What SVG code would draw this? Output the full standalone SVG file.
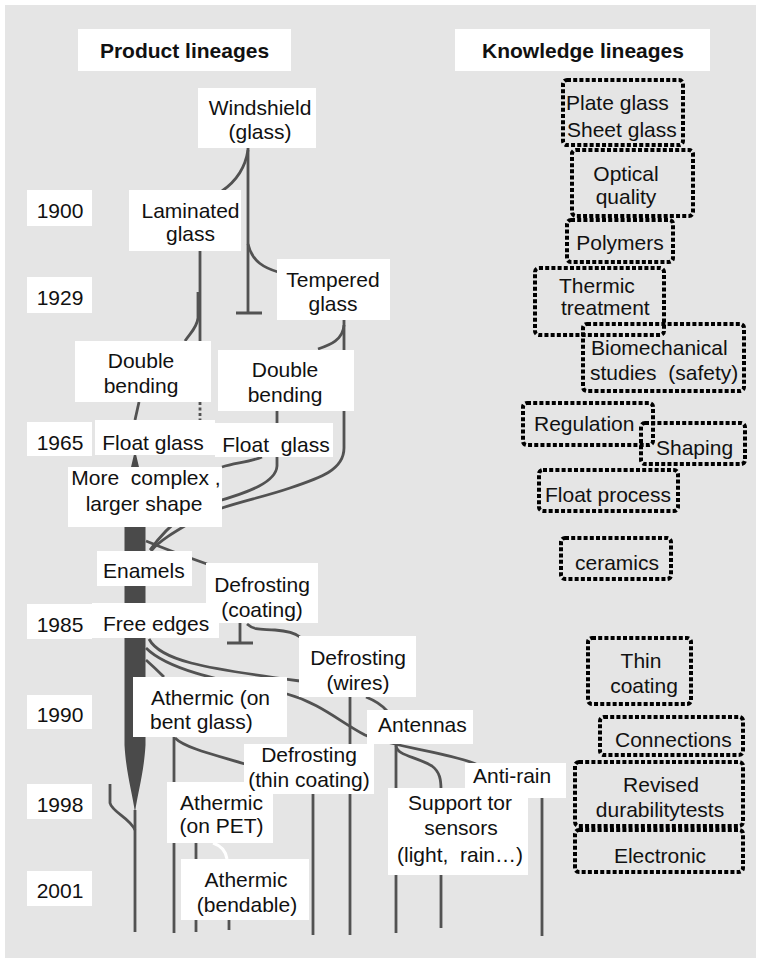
<svg xmlns="http://www.w3.org/2000/svg" width="761" height="963" viewBox="0 0 761 963">
  <style>
    text { font-family: "Liberation Sans", Arial, sans-serif; font-size: 21px; fill: #111; }
    .hdr { font-weight: bold; }
    .c { text-anchor: middle; }
    .box { fill: #fff; }
    .kbox { fill: none; stroke: #000; stroke-width: 4; stroke-dasharray: 4 2.2; }
    .ln { fill: none; stroke: #525252; stroke-width: 2.8; }
  </style>

  <rect x="5" y="5" width="751" height="953" fill="#e5e5e5"/>

  <!-- connectors -->
  <g id="connectors">
    <!-- windshield lineage -->
    <path class="ln" d="M248,148 L248,313 M236,313 L262,313"/>
    <path class="ln" d="M248,150 C245,170 235,182 222,191"/>
    <path class="ln" d="M248,244 C252,262 265,268 278,272"/>
    <!-- laminated glass -->
    <path class="ln" d="M200,251 L200,341"/>
    <path class="ln" d="M198,292 L198,318 C197,328 190,333 185,341"/>
    <path class="ln" d="M139,402 L135,420"/>
    <path class="ln" d="M200,402 L200,420" stroke-width="4" stroke-dasharray="3 2.5"/>
    <!-- tempered glass -->
    <path class="ln" d="M344,320 L344,448 C344,470 320,478 290,488 C255,500 220,505 195,520 C178,530 160,540 151,551"/>
    <path class="ln" d="M344,325 C343,340 330,345 318,349"/>
    <path class="ln" d="M277,411 L277,466 C276,482 250,492 215,502 C190,510 172,520 150,550"/>
    <path class="ln" d="M262,457 C250,462 235,463 222,467"/>
    <!-- main float glass trunk -->
    <path fill="#4a4a4a" d="M135,450 L124.5,495 L124.5,745 C126,772 132,792 135,812 C138,792 144,772 145.5,745 L145.5,495 Z"/>
    <path class="ln" d="M135,810 L135,932"/>
    <path class="ln" d="M110,784 L110,803 C112,812 130,818 135,830"/>
    <!-- enamels / coatings -->
    <path class="ln" d="M146,541 Q170,551 207,564"/>
    <path class="ln" d="M240,623 L240,643 M227,643 L253,643"/>
    <path class="ln" d="M247,624 C255,631 262,629 275,630 C288,631 295,633 300,637"/>
    <!-- free edges branches -->
    <path class="ln" d="M149,639 C160,660 200,668 300,681"/>
    <path class="ln" d="M146,648 C170,672 230,682 287,694 C320,703 340,722 365,735 C395,748 450,752 478,765"/>
    <path class="ln" d="M146,660 Q155,668 164,677"/>
    <!-- defrosting wires, antennas, anti-rain -->
    <path class="ln" d="M350,697 L350,935"/>
    <path class="ln" d="M366,697 C376,701 382,705 387,711"/>
    <path class="ln" d="M396,744 L396,933"/>
    <path class="ln" d="M396,746 C398,756 415,756 432,766 C440,772 441,780 441,790 L441,928"/>
    <path class="ln" d="M542,798 L542,936"/>
    <!-- athermic lineages -->
    <path class="ln" d="M174,737 L174,933"/>
    <path class="ln" d="M175,738 C185,748 215,755 245,764"/>
    <path class="ln" d="M313,794 L313,935"/>
    <path class="ln" d="M196,843 L196,932"/>
    <path fill="none" stroke="#fff" stroke-width="3" d="M213,843 C222,846 226,852 227,859"/>
    <path class="ln" d="M229,920 L229,930"/>
  </g>

  <!-- column headers -->
  <g id="hdr-product"><rect class="box" x="78" y="29" width="213" height="42"/><text class="hdr c" x="184.5" y="58">Product lineages</text></g>
  <g id="hdr-knowledge"><rect class="box" x="455" y="29" width="255" height="42"/><text class="hdr c" x="583" y="58">Knowledge lineages</text></g>

  <!-- years -->
  <g id="y1900"><rect class="box" x="27" y="190" width="65" height="36"/><text class="c" x="60" y="218">1900</text></g>
  <g id="y1929"><rect class="box" x="27" y="277" width="65" height="36"/><text class="c" x="60" y="305">1929</text></g>
  <g id="y1965"><rect class="box" x="27" y="422" width="65" height="34"/><text class="c" x="60" y="450">1965</text></g>
  <g id="y1985"><rect class="box" x="27" y="604" width="65" height="35"/><text class="c" x="60" y="632">1985</text></g>
  <g id="y1990"><rect class="box" x="27" y="695" width="65" height="34"/><text class="c" x="60" y="722">1990</text></g>
  <g id="y1998"><rect class="box" x="27" y="784" width="65" height="35"/><text class="c" x="60" y="812">1998</text></g>
  <g id="y2001"><rect class="box" x="27" y="871" width="65" height="35"/><text class="c" x="60" y="898">2001</text></g>

  <!-- product lineage nodes -->
  <g id="windshield"><rect class="box" x="198" y="88" width="118" height="60"/><text class="c" x="260" y="115">Windshield</text><text class="c" x="260" y="139">(glass)</text></g>
  <g id="laminated"><rect class="box" x="129" y="190" width="112" height="61"/><text class="c" x="190.5" y="218">Laminated</text><text class="c" x="190.5" y="241">glass</text></g>
  <g id="tempered"><rect class="box" x="277" y="259" width="113" height="61"/><text class="c" x="333" y="287">Tempered</text><text class="c" x="333" y="311">glass</text></g>
  <g id="double-bending-a"><rect class="box" x="75" y="341" width="136" height="61"/><text class="c" x="141" y="368">Double</text><text class="c" x="141" y="393">bending</text></g>
  <g id="double-bending-b"><rect class="box" x="218" y="350" width="136" height="61"/><text class="c" x="285" y="377">Double</text><text class="c" x="285" y="402">bending</text></g>
  <g id="float-glass-a"><rect class="box" x="95" y="420" width="120" height="35"/><text class="c" x="153" y="450">Float glass</text></g>
  <g id="float-glass-b"><rect class="box" x="215" y="423" width="118" height="34"/><text class="c" x="276" y="452" xml:space="preserve">Float  glass</text></g>
  <g id="more-complex"><rect class="box" x="68" y="467" width="154" height="60"/><text class="c" x="146" y="485" xml:space="preserve">More  complex ,</text><text class="c" x="144" y="511">larger shape</text></g>
  <g id="enamels"><rect class="box" x="97" y="551" width="95" height="35"/><text x="103" y="578">Enamels</text></g>
  <g id="defrost-coating"><rect class="box" x="206" y="563" width="112" height="60"/><text class="c" x="262" y="592">Defrosting</text><text class="c" x="262" y="617">(coating)</text></g>
  <g id="free-edges"><rect class="box" x="92" y="603" width="127" height="35"/><text x="103" y="631">Free edges</text></g>
  <g id="defrost-wires"><rect class="box" x="299" y="636" width="117" height="61"/><text class="c" x="358" y="665">Defrosting</text><text class="c" x="358" y="690">(wires)</text></g>
  <g id="athermic-bent"><rect class="box" x="133" y="677" width="154" height="60"/><text x="151" y="705">Athermic (on</text><text x="150" y="729">bent glass)</text></g>
  <g id="antennas"><rect class="box" x="367" y="710" width="106" height="34"/><text x="378" y="732">Antennas</text></g>
  <g id="athermic-pet"><rect class="box" x="167" y="782" width="106" height="61"/><text class="c" x="221.5" y="810">Athermic</text><text class="c" x="221.5" y="833">(on PET)</text></g>
  <g id="defrost-thin"><rect class="box" x="244" y="744" width="130" height="50"/><text class="c" x="309" y="762">Defrosting</text><text class="c" x="309" y="787">(thin coating)</text></g>
  <g id="anti-rain"><rect class="box" x="465" y="763" width="101" height="35"/><text x="473" y="783">Anti-rain</text></g>
  <g id="support-sensors"><rect class="box" x="388" y="788" width="140" height="87"/><text class="c" x="460" y="810">Support tor</text><text class="c" x="461" y="835">sensors</text><text class="c" x="460" y="862" xml:space="preserve">(light,  rain…)</text></g>
  <g id="athermic-bendable"><rect class="box" x="181" y="859" width="128" height="61"/><text class="c" x="246" y="887">Athermic</text><text class="c" x="247" y="912">(bendable)</text></g>

  <!-- knowledge lineage nodes -->
  <g id="k-plate"><rect class="kbox" x="563" y="80" width="120" height="65" rx="4"/><text x="566" y="110">Plate glass</text><text x="567" y="137">Sheet glass</text></g>
  <g id="k-optical"><rect class="kbox" x="572" y="150" width="121" height="66" rx="4"/><text class="c" x="626" y="181">Optical</text><text class="c" x="626" y="204">quality</text></g>
  <g id="k-polymers"><rect class="kbox" x="567" y="220" width="106" height="42" rx="4"/><text class="c" x="620" y="250">Polymers</text></g>
  <g id="k-thermic"><rect class="kbox" x="535" y="268" width="129" height="67" rx="4"/><text x="559" y="293">Thermic</text><text x="561" y="315">treatment</text></g>
  <g id="k-bio"><rect class="kbox" x="583" y="324" width="161" height="67" rx="4"/><text x="591" y="355">Biomechanical</text><text x="590" y="380" xml:space="preserve">studies  (safety)</text></g>
  <g id="k-regulation"><rect class="kbox" x="523" y="403" width="130" height="42" rx="4"/><text x="534" y="431">Regulation</text></g>
  <g id="k-shaping"><rect class="kbox" x="641" y="423" width="104" height="41" rx="4"/><text x="656" y="455">Shaping</text></g>
  <g id="k-float"><rect class="kbox" x="539" y="470" width="139" height="41" rx="4"/><text x="545" y="502">Float process</text></g>
  <g id="k-ceramics"><rect class="kbox" x="561" y="538" width="110" height="41" rx="4"/><text x="575" y="570">ceramics</text></g>
  <g id="k-thin"><rect class="kbox" x="588" y="638" width="103" height="66" rx="4"/><text class="c" x="641" y="668">Thin</text><text class="c" x="644" y="693">coating</text></g>
  <g id="k-connections"><rect class="kbox" x="600" y="717" width="143" height="38" rx="4"/><text x="615" y="747">Connections</text></g>
  <g id="k-revised"><rect class="kbox" x="575" y="762" width="168" height="64" rx="4"/><text class="c" x="661" y="792">Revised</text><text class="c" x="660" y="817">durabilitytests</text></g>
  <g id="k-electronic"><rect class="kbox" x="575" y="830" width="168" height="42" rx="4"/><text class="c" x="660" y="863">Electronic</text></g>
</svg>
